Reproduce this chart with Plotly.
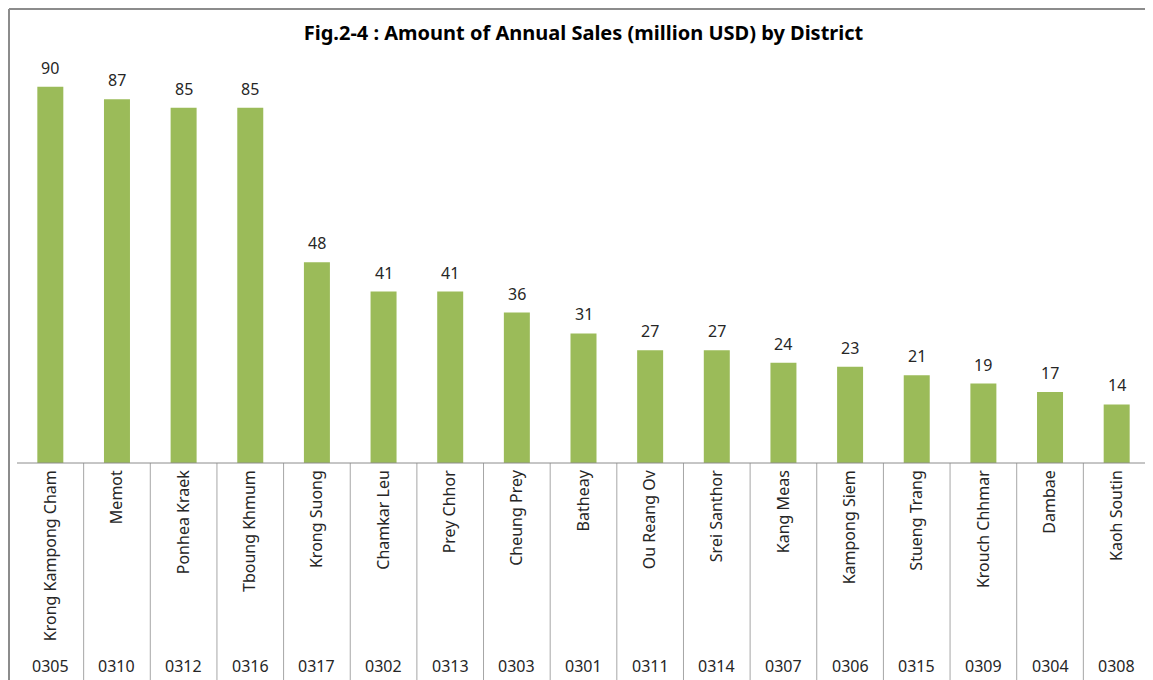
import plotly.graph_objects as go

districts = ["Krong Kampong Cham", "Memot", "Ponhea Kraek", "Tboung Khmum", "Krong Suong",
             "Chamkar Leu", "Prey Chhor", "Cheung Prey", "Batheay", "Ou Reang Ov",
             "Srei Santhor", "Kang Meas", "Kampong Siem", "Stueng Trang", "Krouch Chhmar",
             "Dambae", "Kaoh Soutin"]
codes = ["0305", "0310", "0312", "0316", "0317", "0302", "0313", "0303", "0301", "0311",
         "0314", "0307", "0306", "0315", "0309", "0304", "0308"]
sales = [90, 87, 85, 85, 48, 41, 41, 36, 31, 27, 27, 24, 23, 21, 19, 17, 14]

# page is rendered with an 8px body margin; compensate so the page coordinates match
OFF = 8
PW, PH = 1153, 680
W, H = PW - OFF, PH - OFF
ML, MR, MT, MB = 17 - OFF, 3, 45 - OFF, 217
plot_h = H - MT - MB
plot_w = W - ML - MR

FONT = "Noto Sans"
TXT = "#262626"
idx = list(range(len(districts)))

fig = go.Figure()
fig.add_trace(go.Bar(
    x=idx, y=sales, width=0.39,
    marker=dict(color="#9BBB59", line=dict(width=0)),
    showlegend=False, hoverinfo="x+y",
))

shapes = []
for k in range(1, len(districts) + 1):
    shapes.append(dict(type="line", xref="x", yref="paper",
                       x0=k - 0.5, x1=k - 0.5, y0=0, y1=-MB / plot_h,
                       line=dict(color="#A6A6A6", width=1)))
shapes.append(dict(type="line", xref="x", yref="paper", x0=-0.5, x1=len(districts) - 0.5,
                   y0=0, y1=0, line=dict(color="#8C8C8C", width=1)))
# chart border (top and left)
bx = -(ML - 1) / plot_w
by = 1 + (MT - 1) / plot_h
shapes.append(dict(type="line", xref="paper", yref="paper",
                   x0=bx, x1=1 + MR / plot_w, y0=by, y1=by,
                   line=dict(color="#8C8C8C", width=2)))
shapes.append(dict(type="line", xref="paper", yref="paper",
                   x0=bx, x1=bx, y0=by, y1=-MB / plot_h,
                   line=dict(color="#8C8C8C", width=2)))

annotations = []
# data labels
for i, v in zip(idx, sales):
    annotations.append(dict(x=i, y=v, xref="x", yref="y", text=str(v), showarrow=False,
                            yanchor="middle", yshift=19,
                            font=dict(family=FONT, size=16, color=TXT)))
# district codes (second category level)
for i, c in zip(idx, codes):
    annotations.append(dict(x=i, y=-(666 - 463) / plot_h, xref="x", yref="paper",
                            text=c, showarrow=False, yanchor="middle",
                            font=dict(family=FONT, size=16, color=TXT)))

fig.update_layout(
    width=W, height=H,
    margin=dict(l=ML, r=MR, t=MT, b=MB, pad=0),
    paper_bgcolor="white", plot_bgcolor="white",
    title=dict(text="<b>Fig.2-4 : Amount of Annual Sales (million USD) by District</b>",
               x=0.5, xref="paper", xanchor="center",
               y=1 - (33 - OFF) / H, yanchor="middle",
               font=dict(family=FONT, size=20, color="#000000")),
    xaxis=dict(range=[-0.5, len(districts) - 0.5], tickmode="array", tickvals=idx,
               ticktext=districts, tickangle=-90, ticks="", showgrid=False,
               zeroline=False, showline=False, ticklabelstandoff=3, automargin=False,
               tickfont=dict(family=FONT, size=16, color=TXT)),
    yaxis=dict(range=[0, 100], visible=False, showgrid=False, zeroline=False),
    shapes=shapes, annotations=annotations,
)

fig.write_html("out.html")
